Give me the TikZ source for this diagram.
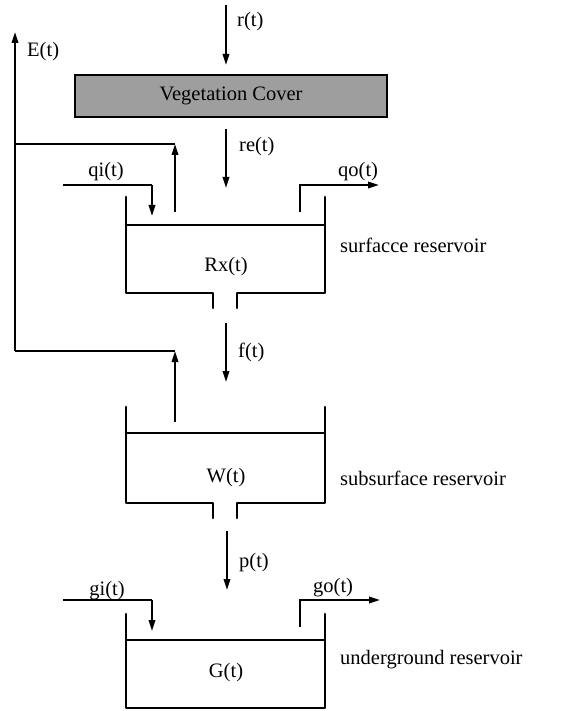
\documentclass[tikz,border=0pt]{standalone}
\usepackage{fontspec}
\setmainfont{Liberation Serif}
\usetikzlibrary{arrows.meta}
\begin{document}
\begin{tikzpicture}[x=1pt,y=-1pt,
  flow/.style={line width=1.8pt,-{Triangle[length=11pt,width=6.5pt]}},
  pipe/.style={line width=1.8pt},
  wall/.style={line width=2.6pt,line cap=round,line join=round},
  water/.style={line width=1.8pt},
  lbl/.style={font=\fontsize{20.5}{24}\selectfont,inner sep=0pt},
  lblw/.style={lbl,anchor=west},
  veg/.style={draw,line width=2.4pt,fill=black!38,minimum width=312pt,minimum height=42pt,inner sep=0pt,font=\fontsize{20.5}{24}\selectfont}]
\useasboundingbox (0,0) rectangle (576,711);

% vegetation cover
\node[veg] (veg) at (231,96) {Vegetation Cover};

% rain
\coordinate (rtop) at (226,5);
\coordinate (rbot) at (226,65);
\draw[flow] (rtop) -- (rbot);
\node[lblw] (rlab) at (237,22) {r(t)};

% effective rain
\coordinate (retop) at (226,129);
\coordinate (rebot) at (226,188);
\draw[flow] (retop) -- (rebot);
\node[lblw] (relab) at (239,147) {re(t)};

% evaporation
\coordinate (ebot) at (15,351);
\coordinate (etop) at (15,32);
\coordinate (ej1) at (15,144);
\coordinate (ea1) at (175,144);
\coordinate (es1) at (175,212);
\coordinate (ea2) at (175,351);
\coordinate (es2) at (175,422);
\draw[flow] (ebot) -- (etop);
\draw[pipe] (ej1) -- (ea1);
\draw[flow] (es1) -- (ea1);
\draw[pipe] (ebot) -- (ea2);
\draw[flow] (es2) -- (ea2);
\node[lblw] (elab) at (27,52) {E(t)};

% surface reservoir
\coordinate (t1tl) at (126,197);
\coordinate (t1tr) at (325,197);
\draw[wall] (t1tl) -- (126,293) -- (213,293) -- (213,308);
\draw[wall] (237,308) -- (237,293) -- (325,293) -- (t1tr);
\draw[water] (126,225) -- (325,225);
\node[lbl] (rx) at (226,267) {Rx(t)};
\node[lblw] (surf) at (340,245) {surfacce reservoir};

% qi / qo
\coordinate (qi0) at (63,185);
\coordinate (qi1) at (152,185);
\coordinate (qi2) at (152,216);
\draw[pipe] (qi0) -- (qi1);
\draw[flow] (qi1) -- (qi2);
\node[lbl] (qilab) at (106,172) {qi(t)};
\coordinate (qo0) at (300,212);
\coordinate (qo1) at (300,185);
\coordinate (qo2) at (379,185);
\draw[flow] (qo0) -- (qo1) -- (qo2);
\node[lblw] (qolab) at (338,172) {qo(t)};

% infiltration
\coordinate (ftop) at (226,323);
\coordinate (fbot) at (226,382);
\draw[flow] (ftop) -- (fbot);
\node[lblw] (flab) at (238,352) {f(t)};

% subsurface reservoir
\coordinate (t2tl) at (126,407);
\coordinate (t2tr) at (325,407);
\draw[wall] (t2tl) -- (126,503) -- (213,503) -- (213,518);
\draw[wall] (237,518) -- (237,503) -- (325,503) -- (t2tr);
\draw[water] (126,433) -- (325,433);
\node[lbl] (w) at (226,478) {W(t)};
\node[lblw] (subs) at (340,478) {subsurface reservoir};

% percolation
\coordinate (ptop) at (227,531);
\coordinate (pbot) at (227,590);
\draw[flow] (ptop) -- (pbot);
\node[lblw] (plab) at (239,563) {p(t)};

% gi / go
\coordinate (gi0) at (63,600);
\coordinate (gi1) at (152,600);
\coordinate (gi2) at (152,631);
\draw[pipe] (gi0) -- (gi1);
\draw[flow] (gi1) -- (gi2);
\node[lbl] (gilab) at (107,591) {gi(t)};
\coordinate (go0) at (300,627);
\coordinate (go1) at (300,600);
\coordinate (go2) at (380,600);
\draw[flow] (go0) -- (go1) -- (go2);
\node[lblw] (golab) at (313,588) {go(t)};

% underground reservoir
\coordinate (t3tl) at (126,614);
\coordinate (t3tr) at (325,614);
\draw[wall] (t3tl) -- (126,708) -- (325,708) -- (t3tr);
\draw[water] (126,640) -- (325,640);
\node[lbl] (g) at (226,673) {G(t)};
\node[lblw] (under) at (340,660) {underground reservoir};
\end{tikzpicture}
\end{document}
